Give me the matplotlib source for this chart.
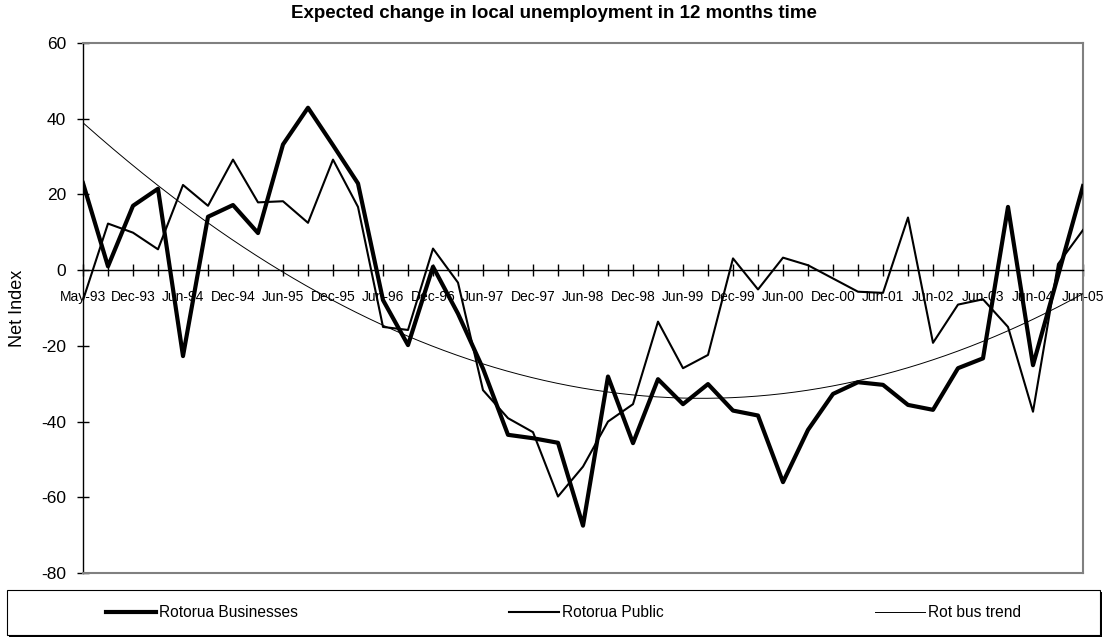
import numpy as np
import matplotlib
matplotlib.use("Agg")
import matplotlib.pyplot as plt
from matplotlib import font_manager
from matplotlib.patches import Rectangle
from matplotlib.lines import Line2D

# quarterly survey periods (semi-annual after Jun-01)
periods = ["May-93", "Sep-93", "Dec-93", "Mar-94", "Jun-94", "Sep-94", "Dec-94", "Mar-95",
           "Jun-95", "Sep-95", "Dec-95", "Mar-96", "Jun-96", "Sep-96", "Dec-96", "Mar-97",
           "Jun-97", "Sep-97", "Dec-97", "Mar-98", "Jun-98", "Sep-98", "Dec-98", "Mar-99",
           "Jun-99", "Sep-99", "Dec-99", "Mar-00", "Jun-00", "Sep-00", "Dec-00", "Mar-01",
           "Jun-01", "Dec-01", "Jun-02", "Dec-02", "Jun-03", "Dec-03", "Jun-04", "Dec-04",
           "Jun-05"]

businesses = [23, 1, 17, 21.5, -22.7, 14.1, 17.2, 9.8, 33.2, 42.9, 33, 22.9, -7.9, -19.8,
              0.9, -11.5, -26, -43.5, -44.4, -45.6, -67.5, -28.1, -45.7, -28.8, -35.4, -30.1,
              -37.1, -38.4, -56, -42.2, -32.7, -29.6, -30.3, -35.6, -36.9, -25.9, -23.3, 16.7,
              -25.1, -1.5, 22.2]

public = [-7.9, 12.3, 9.9, 5.5, 22.5, 17.0, 29.2, 17.9, 18.2, 12.5, 29.2, 16.7, -15, -15.8,
          5.7, -3.3, -31.7, -39.1, -42.8, -59.8, -51.9, -40.0, -35.4, -13.6, -25.9, -22.4,
          3.1, -5.1, 3.3, 1.3, -2.2, -5.7, -6.0, 13.9, -19.2, -9.1, -7.7, -15.0, -37.4, 1.6,
          10.6]

y_ticks = [-80, -60, -40, -20, 0, 20, 40, 60]

names = {f.name for f in font_manager.fontManager.ttflist}
if "Liberation Sans Narrow" in names:
    narrow = "Liberation Sans Narrow"
    tick_size, legend_size = 11.5, 13.5
else:
    narrow = "Liberation Sans"
    tick_size, legend_size = 9.5, 11.2
plt.rcParams["font.family"] = ["Liberation Sans", "DejaVu Sans"]

W, H = 1107, 638
fig = plt.figure(figsize=(W / 100, H / 100), dpi=100)
ax = fig.add_axes([83 / W, 1 - 573 / H, 1000 / W, 530 / H])

idx = np.arange(len(periods))
# second order polynomial trend of the business series
coef = np.polyfit(idx, businesses, 2)
fine = np.linspace(0, len(periods) - 1, 400)
trend = np.polyval(coef, fine)

ax.plot(idx, businesses, color="black", lw=3.0, zorder=4)
ax.plot(idx, public, color="black", lw=1.5, zorder=4)
ax.plot(fine, trend, color="black", lw=0.7, zorder=4)

ax.set_xlim(0, len(periods) - 1)
ax.set_ylim(-80, 60)
ax.set_yticks(y_ticks)
ax.set_yticklabels([str(v) for v in y_ticks])
ax.set_xticks(idx)
ax.set_xticklabels([p if i % 2 == 0 else "" for i, p in enumerate(periods)],
                   fontfamily=narrow, fontsize=tick_size)

ax.spines["bottom"].set_position(("data", 0))
ax.spines["bottom"].set_color("black")
ax.spines["bottom"].set_linewidth(1)
ax.spines["left"].set_color("black")
ax.spines["left"].set_linewidth(1)
for s in ["top", "right"]:
    ax.spines[s].set_color("#808080")
    ax.spines[s].set_linewidth(1.5)
ax.axhline(-80, color="#808080", lw=1.5, clip_on=False, zorder=5)

ax.tick_params(axis="x", direction="inout", length=8, width=1, pad=10)
ax.tick_params(axis="y", direction="inout", length=8, width=1, pad=8, labelsize=12.5)

ax.set_ylabel("Net Index", fontsize=13)
ax.yaxis.set_label_coords(-57 / 1000, 0.5)

fig.text(0.5, 1 - 13 / H, "Expected change in local unemployment in 12 months time",
         ha="center", va="center", fontsize=13.5, fontweight="bold")

# legend box with shadow
fig.patches.append(Rectangle((9 / W, 1 - 637 / H), 1093 / W, 45 / H,
                             transform=fig.transFigure, facecolor="black",
                             edgecolor="none", zorder=0))
fig.patches.append(Rectangle((7 / W, 1 - 635 / H), 1093 / W, 45 / H,
                             transform=fig.transFigure, facecolor="white",
                             edgecolor="black", lw=0.8, zorder=1))

handles = [Line2D([], [], color="black", lw=3.0),
           Line2D([], [], color="black", lw=1.5),
           Line2D([], [], color="black", lw=0.7)]
labels = ["Rotorua Businesses", "Rotorua Public", "Rot bus trend"]
fig.legend(handles, labels, ncol=3, mode="expand", loc="center",
           bbox_to_anchor=(106 / W, 1 - 635 / H, 915 / W, 45 / H),
           frameon=False, borderaxespad=0, borderpad=0,
           handlelength=50 / (legend_size * 1.389), handletextpad=0.2,
           prop={"family": narrow, "size": legend_size})

fig.savefig("out.png", dpi=100)
